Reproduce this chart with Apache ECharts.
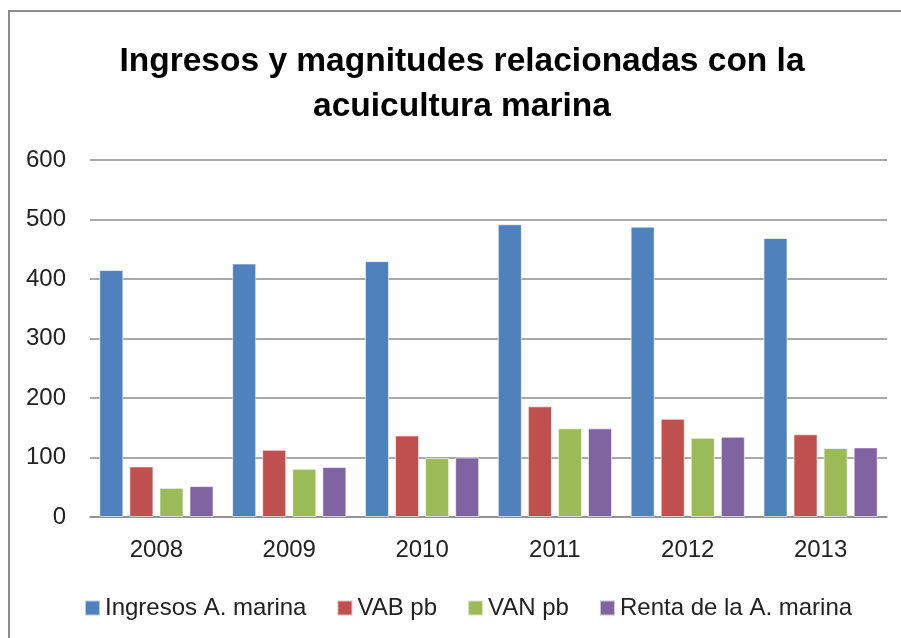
<!DOCTYPE html>
<html>
<head>
<meta charset="utf-8">
<script src="https://cdn.jsdelivr.net/npm/echarts@6/dist/echarts.min.js"></script>
<style>
  html, body { margin: 0; padding: 0; background: #fff; overflow: hidden; }
  #chart { width: 901px; height: 638px; }
</style>
</head>
<body>
<div id="chart"></div>
<script>
var years = ['2008', '2009', '2010', '2011', '2012', '2013'];
var ingresos = [415, 426, 430, 492, 488, 469];
var vab = [85, 113, 137, 186, 165, 139];
var van = [49, 81, 99, 149, 133, 116];
var renta = [52, 84, 100, 149, 135, 117];
var yTicks = [0, 100, 200, 300, 400, 500, 600];

var font = '"Liberation Sans", Arial, sans-serif';
var chart = echarts.init(document.getElementById('chart'));

function bar(name, data, color) {
    return {
        name: name,
        type: 'bar',
        data: data,
        barGap: '25%',
        barCategoryGap: '14%',
        itemStyle: { color: color, borderColor: 'rgba(255,255,255,0.6)', borderWidth: 1 }
    };
}

var option = {
    animation: false,
    backgroundColor: '#fff',
    textStyle: { fontFamily: font },
    title: {
        text: 'Ingresos y magnitudes relacionadas con la\nacuicultura marina',
        left: 457,
        textAlign: 'center',
        top: 34,
        textStyle: { fontFamily: font, fontSize: 33.5, fontWeight: 'bold', color: '#000', lineHeight: 45 }
    },
    // chart frame, only the left and top edges show in the picture
    graphic: [{
        type: 'polyline',
        shape: { points: [[9, 700], [9, 11], [920, 11]] },
        style: { stroke: '#8c8c8c', lineWidth: 2, fill: null }
    }],
    grid: { left: 90, right: 14, top: 160, bottom: 121 },
    legend: {
        top: 596,
        left: 84,
        padding: 0,
        itemWidth: 15,
        itemHeight: 15,
        itemGap: 30,
        icon: 'rect',
        textStyle: { fontFamily: font, fontSize: 24, color: '#222' }
    },
    xAxis: {
        type: 'category',
        data: years,
        axisLine: { lineStyle: { color: '#8c8c8c', width: 1.5 } },
        axisTick: { show: false },
        axisLabel: { fontFamily: font, fontSize: 24, color: '#222', margin: 21 }
    },
    yAxis: {
        type: 'value',
        min: 0,
        max: 600,
        interval: 100,
        axisLine: { show: false },
        axisTick: { show: false },
        splitLine: { lineStyle: { color: '#8c8c8c', width: 1.5 } },
        axisLabel: {
            fontFamily: font, fontSize: 24, color: '#222', margin: 24,
            formatter: function (v) { return yTicks.indexOf(v) >= 0 ? String(v) : ''; }
        }
    },
    series: [
        bar('Ingresos A. marina', ingresos, '#4F81BD'),
        bar('VAB pb', vab, '#C0504D'),
        bar('VAN pb', van, '#9BBB59'),
        bar('Renta de la A. marina', renta, '#8064A2')
    ]
};
chart.setOption(option);
</script>
</body>
</html>
